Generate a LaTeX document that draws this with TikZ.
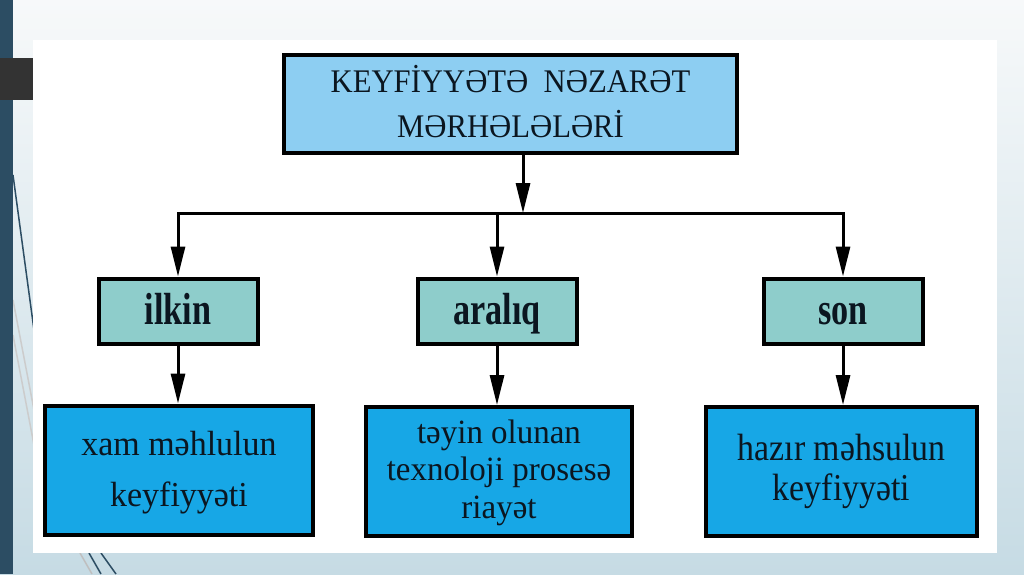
\documentclass[tikz,border=0pt]{standalone}
\usepackage{fontspec}
\setmainfont{Liberation Serif}
\newfontfamily\titlefont{Liberation Serif}[FakeStretch=0.93]
\newfontfamily\stagefont{Liberation Serif}[FakeStretch=0.76]
\newfontfamily\leftfont{Liberation Serif}[FakeStretch=0.97]
\newfontfamily\tallfont{Liberation Serif}[FakeStretch=0.89]
\usepackage{xcolor}
\usepackage{tikz}
\usetikzlibrary{arrows.meta}
\definecolor{headblue}{HTML}{8DCEF2}
\definecolor{stageteal}{HTML}{8ECDCB}
\definecolor{boxblue}{HTML}{17A7E6}
\definecolor{inkdark}{HTML}{0B1620}
\definecolor{slideedge}{HTML}{2C4D63}
\definecolor{slidetab}{HTML}{333333}
\definecolor{bgtop}{HTML}{F7F9FA}
\definecolor{bgbottom}{HTML}{C6DBE4}
\def\busy{213}
\newcommand{\lift}[1]{\rule{0pt}{#1}}
\newcommand{\drop}[1]{\rule[-#1]{0pt}{#1}}

\begin{document}
\begin{tikzpicture}[x=1pt,y=-1pt,line width=3pt,>={Triangle[length=30pt,width=14pt]}]
	\tikzstyle{box}=[draw=black,line width=4pt,text=inkdark,inner sep=0pt]
	\tikzstyle{head box}=[box,align=center,fill=headblue,minimum width=453pt,minimum height=98pt,font=\titlefont\fontsize{33}{45}\selectfont]
	\tikzstyle{stage box}=[box,fill=stageteal,minimum width=159pt,minimum height=65pt,text height=31pt,text depth=4pt,font=\stagefont\fontsize{45}{45}\selectfont\bfseries]
	\tikzstyle{result box}=[box,align=center,fill=boxblue,minimum height=129pt]
	\tikzstyle{deco}=[line width=1.5pt]
	
	% Slide background
	\useasboundingbox (0,0) rectangle (1024,574);
	\shade[top color=bgtop,bottom color=bgbottom] (0,0) rectangle (1024,574);
	\draw[deco,slideedge] (13,175) -- (34,330);
	\draw[deco,gray!40] (13,300) -- (34,410);
	\draw[deco,gray!40] (13,335) -- (34,445);
	\draw[deco,gray!50] (80,553) -- (92,574);
	\draw[deco,slideedge] (89,553) -- (101,574);
	\draw[deco,slideedge] (101,553) -- (116,574);
	\fill[white] (33,40) rectangle (997,553);
	\fill[slideedge] (0,0) rectangle (13,574);
	\fill[slidetab] (0,58) rectangle (33,100);
	
	% Draw the title node
	\node[head box] (T) at (510.5,104) {KEYFİYYƏTƏ\ \ NƏZARƏT\\MƏRHƏLƏLƏRİ\drop{5pt}};
	
	% Draw the stage nodes
	\foreach \name / \x / \text in {1/178/ilkin,2/497/aralıq,3/843/son}
	\node[stage box] (S-\name) at (\x,311) {\text};
	
	% Draw the result nodes
	\node[result box,minimum width=268pt,font=\leftfont\fontsize{35}{51}\selectfont] (R-1) at (179,470) {\lift{28.6pt}xam məhlulun\\keyfiyyəti};
	\node[result box,minimum width=266pt,font=\leftfont\fontsize{34}{37.5}\selectfont] (R-2) at (499,471.5) {\lift{25.6pt}təyin olunan\\texnoloji prosesə\\riayət};
	\node[result box,minimum width=271pt,font=\tallfont\fontsize{38}{40}\selectfont] (R-3) at (841.5,471.5) {hazır məhsulun\\keyfiyyəti};
	
	% Connect the title with the bus line
	\coordinate (bus) at (523,\busy);
	\draw[->] (T.south -| bus) -- (bus);
	\draw[line cap=rect] (S-1.north |- bus) -- (S-3.north |- bus);
	
	% Connect the bus line with every stage, and every stage with its result
	\foreach \name in {1,...,3}
	{
		\draw[->] (S-\name.north |- bus) -- (S-\name.north);
		\draw[->] (S-\name.south) -- (S-\name.south |- R-\name.north);
	}
\end{tikzpicture}
\end{document}
